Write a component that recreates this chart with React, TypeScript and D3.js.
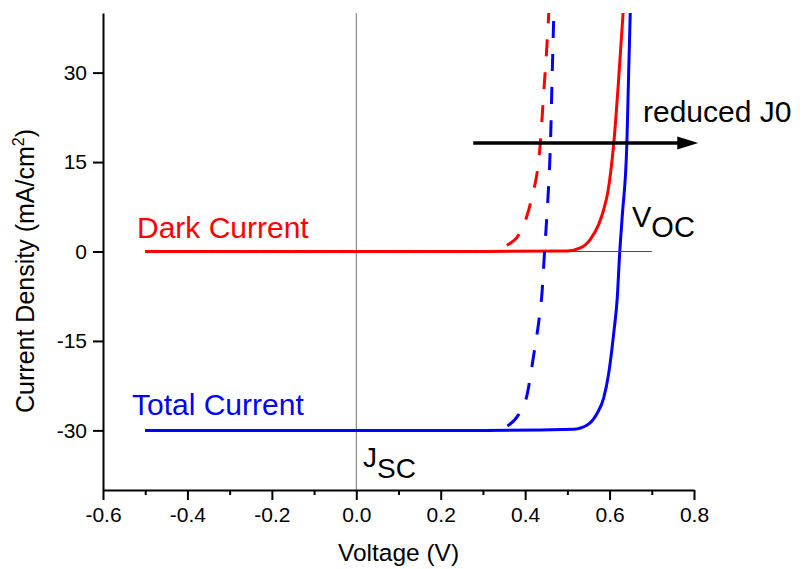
import React, { useEffect, useRef } from 'react'
import * as d3 from 'd3'

// dark current (solid) and total current (solid), V in volts, J in mA/cm2
const darkV = [-0.5, 0.3, 0.5, 0.531, 0.554, 0.574, 0.586, 0.596, 0.61, 0.622, 0.632]
const darkJ = [0, 0, 0.1, 0.6, 2.0, 4.5, 7.0, 10.0, 18.2, 29.4, 40]

const totalV = [-0.5, 0.3, 0.515, 0.547, 0.57, 0.586, 0.598, 0.61, 0.618, 0.624, 0.63, 0.641, 0.645, 0.649]
const totalJ = [-30, -30, -29.8, -29.1, -27.2, -24.6, -20.4, -13.6, -8, -0.2, 5.9, 18.2, 29.4, 40]

// the same curves with a larger J0 (dashed)
const darkHighV = [-0.5, 0.32, 0.353, 0.385, 0.404, 0.414, 0.436, 0.444, 0.452, 0.456]
const darkHighJ = [0, 0, 0.9, 2.8, 5.9, 8.5, 18.2, 26.6, 35, 40]

const totalHighV = [-0.5, 0.325, 0.357, 0.385, 0.404, 0.42, 0.432, 0.44, 0.446, 0.452, 0.456, 0.46, 0.464, 0.468]
const totalHighJ = [-30, -30, -29.3, -27.3, -24.2, -17.5, -11.9, -6.9, 0, 6.5, 11.5, 18.2, 29.4, 40]

const xTicks = [-0.6, -0.4, -0.2, 0.0, 0.2, 0.4, 0.6, 0.8]
const xTickLabels = ['-0.6', '-0.4', '-0.2', '0.0', '0.2', '0.4', '0.6', '0.8']
const xMinorTicks = [-0.5, -0.3, -0.1, 0.1, 0.3, 0.5, 0.7]
const yTicks = [-30, -15, 0, 15, 30]
const yTickLabels = ['-30', '-15', '0', '15', '30']

const W = 804
const H = 569
const FONT = "Arial, 'Liberation Sans', sans-serif"

const App = () => {
  const ref = useRef<SVGSVGElement>(null)

  useEffect(() => {
    const svg = d3.select(ref.current)
    svg.selectAll('*').remove()

    const x = d3.scaleLinear().domain([-0.6, 0.8]).range([103, 694])
    const y = d3.scaleLinear().domain([-40, 40]).range([490, 13])

    const line = (vs: number[], js: number[]) =>
      d3.line<number>()
        .x(i => x(vs[i]))
        .y(i => y(js[i]))
        .curve(d3.curveMonotoneX)(d3.range(vs.length))

    // vertical zero line
    svg.append('line')
      .attr('x1', x(0)).attr('x2', x(0))
      .attr('y1', y(40)).attr('y2', y(-40))
      .attr('stroke', '#6f6f6f').attr('stroke-width', 1)

    svg.append('path').attr('d', line(darkV, darkJ))
      .attr('fill', 'none').attr('stroke', '#ff0000').attr('stroke-width', 3)
    svg.append('path').attr('d', line(totalV, totalJ))
      .attr('fill', 'none').attr('stroke', '#0000ff').attr('stroke-width', 3)

    // horizontal zero line
    svg.append('line')
      .attr('x1', x(-0.5)).attr('x2', x(0.7))
      .attr('y1', y(0)).attr('y2', y(0))
      .attr('stroke', '#4a4a4a').attr('stroke-width', 1)

    svg.append('path').attr('d', line(darkHighV, darkHighJ))
      .attr('fill', 'none').attr('stroke', '#ff0000').attr('stroke-width', 3)
      .attr('stroke-dasharray', '17,16')
    svg.append('path').attr('d', line(totalHighV, totalHighJ))
      .attr('fill', 'none').attr('stroke', '#0000ff').attr('stroke-width', 3)
      .attr('stroke-dasharray', '17,16')

    // axes
    const xAxis = svg.append('g')
      .attr('transform', `translate(0,${y(-40)})`)
      .call(d3.axisBottom(x).tickValues(xTicks).tickSize(10).tickSizeOuter(0).tickPadding(7)
        .tickFormat((d, i) => xTickLabels[i]))
    svg.append('g')
      .attr('transform', `translate(0,${y(-40)})`)
      .call(d3.axisBottom(x).tickValues(xMinorTicks).tickSize(5).tickSizeOuter(0).tickFormat(() => ''))
      .call(g => g.select('.domain').remove())
      .selectAll('line').attr('stroke', '#000').attr('stroke-width', 2)
    const yAxis = svg.append('g')
      .attr('transform', `translate(${x(-0.6)},0)`)
      .call(d3.axisLeft(y).tickValues(yTicks).tickSize(10).tickSizeOuter(0).tickPadding(6)
        .tickFormat((d, i) => yTickLabels[i]))

    ;[xAxis, yAxis].forEach(g => {
      g.select('.domain').attr('stroke', '#000').attr('stroke-width', 2)
      g.selectAll('.tick line').attr('stroke', '#000').attr('stroke-width', 2)
      g.selectAll('.tick text').attr('font-family', FONT).attr('font-size', 21).attr('fill', '#000')
    })

    // axis titles
    svg.append('text')
      .attr('x', (x(-0.6) + x(0.8)) / 2).attr('y', 561)
      .attr('text-anchor', 'middle').attr('font-family', FONT).attr('font-size', 24.5)
      .text('Voltage (V)')

    const yt = svg.append('text')
      .attr('transform', `translate(34,${271}) rotate(-90)`)
      .attr('text-anchor', 'middle').attr('font-family', FONT).attr('font-size', 25)
    yt.append('tspan').text('Current Density (mA/cm')
    yt.append('tspan').attr('dy', -10).attr('font-size', 16).text('2')
    yt.append('tspan').attr('dy', 10).text(')')

    // arrow
    const ay = y(18.2)
    svg.append('line')
      .attr('x1', x(0.277)).attr('x2', x(0.78))
      .attr('y1', ay).attr('y2', ay)
      .attr('stroke', '#000').attr('stroke-width', 3.5)
    const tip = x(0.81)
    svg.append('path')
      .attr('d', `M${tip},${ay} L${tip - 21},${ay - 6.5} L${tip - 21},${ay + 6.5} Z`)
      .attr('fill', '#000')

    // labels
    const label = (tx: number, ty: number, txt: string, color: string, size: number) =>
      svg.append('text').attr('x', tx).attr('y', ty).attr('font-family', FONT)
        .attr('font-size', size).attr('fill', color).text(txt)

    label(137, 238, 'Dark Current', '#ff0000', 30)
    label(132, 415, 'Total Current', '#0000ff', 30)
    label(643, 122, 'reduced J0', '#000', 30)

    const voc = label(632, 227, 'V', '#000', 29)
    voc.append('tspan').attr('dy', 10).text('OC')
    const jsc = label(363, 467, 'J', '#000', 28)
    jsc.append('tspan').attr('dy', 11).text('SC')
  }, [])

  return (
    <svg ref={ref} width={W} height={H}
      style={{ position: 'absolute', left: 0, top: 0, background: '#fff' }} />
  )
}

export default App
